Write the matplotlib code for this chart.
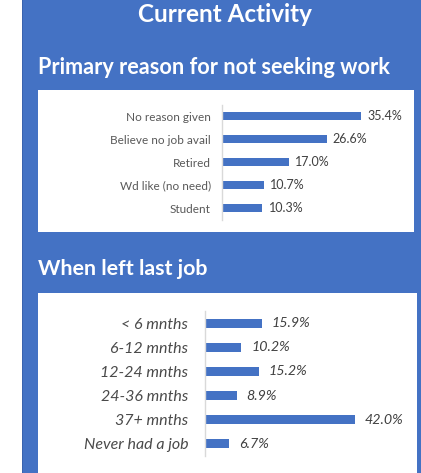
import matplotlib
matplotlib.use("Agg")
import matplotlib.pyplot as plt
from matplotlib.patches import Rectangle

# data
reason_labels = ["No reason given", "Believe no job avail", "Retired", "Wd like (no need)", "Student"]
reason_values = [35.4, 26.6, 17.0, 10.7, 10.3]

left_labels = ["< 6 mnths", "6-12 mnths", "12-24 mnths", "24-36 mnths", "37+ mnths", "Never had a job"]
left_values = [15.9, 10.2, 15.2, 8.9, 42.0, 6.7]

BLUE = "#4472C4"
W, H = 421, 473

plt.rcParams["font.family"] = ["Lato", "DejaVu Sans"]
fig = plt.figure(figsize=(W / 100, H / 100), dpi=100)
fig.patch.set_facecolor("white")


def px(x0, y0, x1, y1):
    # pixel box (top-left origin) -> figure fraction rect
    return [x0 / W, 1 - y1 / H, (x1 - x0) / W, (y1 - y0) / H]


def frect(x0, y0, x1, y1, color):
    r = px(x0, y0, x1, y1)
    fig.patches.append(Rectangle((r[0], r[1]), r[2], r[3], transform=fig.transFigure,
                                 facecolor=color, edgecolor="none", zorder=-5))


# background panels
frect(22, 0, W, H, "#3A63AE")
frect(23, 0, W, H, BLUE)
frect(38, 90, 414, 232, "white")
frect(38, 293, 417, H, "white")

fig.text(225 / W, 1 - 15 / H, "Current Activity", color="white", fontsize=17.5,
         fontweight="bold", ha="center", va="center")
fig.text(38 / W, 1 - 68 / H, "Primary reason for not seeking work", color="white",
         fontsize=15.6, fontweight="bold", ha="left", va="center")
fig.text(38 / W, 1 - 269 / H, "When left last job", color="white",
         fontsize=15.4, fontweight="bold", ha="left", va="center")


def bar_chart(rect, labels, values, xmax, bh, lab_size, lab_color, val_size, style, pad, gap):
    ax = fig.add_axes(rect)
    ax.set_facecolor("none")
    y = list(range(len(labels)))
    ax.barh(y, values, height=bh, color=BLUE)
    ax.set_xlim(0, xmax)
    ax.set_ylim(len(labels) - 0.5, -0.5)
    ax.set_yticks(y)
    ax.set_yticklabels(labels, fontsize=lab_size, color=lab_color, style=style)
    ax.tick_params(axis="y", length=0, pad=pad)
    ax.set_xticks([])
    for s in ["top", "right", "bottom"]:
        ax.spines[s].set_visible(False)
    ax.spines["left"].set_color("#D9D9D9")
    ax.spines["left"].set_linewidth(1)
    for yi, v in zip(y, values):
        ax.annotate("%.1f%%" % v, (v, yi), xytext=(gap, 0), textcoords="offset points",
                    ha="left", va="center", fontsize=val_size, color="#404040", style=style)
    return ax


bar_chart(px(222, 104.5, 222 + 40 * 3.93, 219.5), reason_labels, reason_values,
          40, 0.32, 8.5, "#595959", 9, "normal", 8, 4.5)
bar_chart(px(205, 311, 205 + 48 * 3.57, 456), left_labels, left_values,
          48, 0.37, 11.5, "#4A4A4A", 10.3, "italic", 12, 7)

fig.savefig("out.png", dpi=100)
